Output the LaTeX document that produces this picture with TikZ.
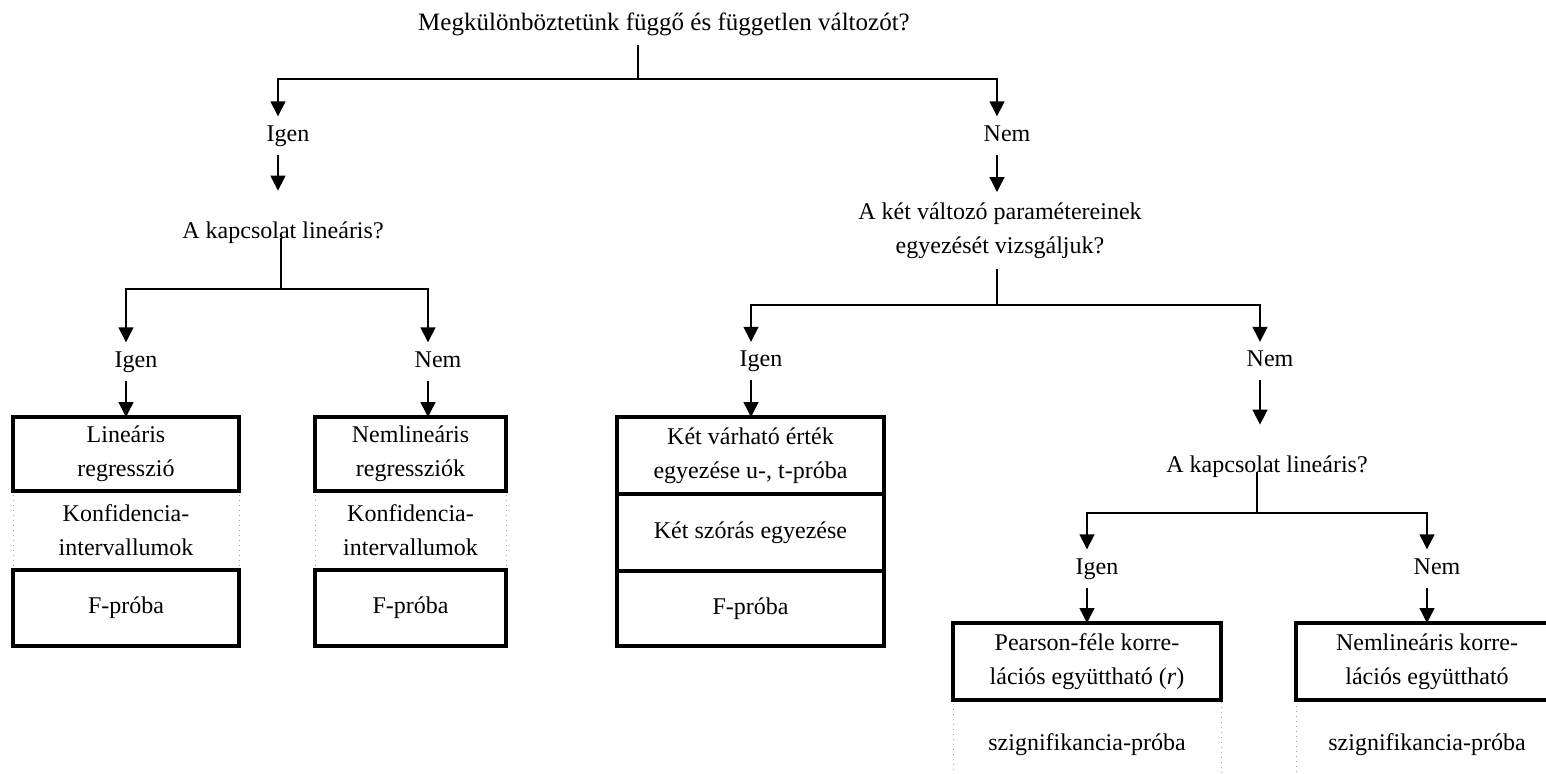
\documentclass[tikz,border=0pt]{standalone}
\usepackage{fontspec}
\setmainfont{Liberation Serif}
\usetikzlibrary{arrows.meta,positioning}

\begin{document}
\begin{tikzpicture}[x=0.5pt,y=-0.5pt,font=\fontsize{12}{17}\selectfont,
	line width=0.7pt,
	arr/.style = {-{Triangle[width=7.5pt,length=7.5pt]}},
	label node/.style = {inner xsep=2pt, inner ysep=4pt, text height=8pt, text depth=2.5pt},
	question node/.style = {inner xsep=2pt, inner ysep=15pt, anchor=base},
	box node/.style = {draw, line width=1.7pt, align=center, inner sep=0pt, outer sep=0pt},
	dot node/.style = {draw=gray!70, dotted, line width=0.5pt, align=center, inner sep=0pt, outer sep=0pt}]
	
	\useasboundingbox (0,0) rectangle (1546,773);
	
	% top question
	\node[anchor=base, inner ysep=4.5pt, font=\fontsize{12.5}{17}\selectfont] (q0) at (664,30) {Megkülönböztetünk függő és független változót?};
	\coordinate (j0) at (638,79);
	\draw (q0.south -| j0) -- (j0);
	\node[label node] (i0) at (288,135.5) {Igen};
	\node[label node] (n0) at (1007,135.5) {Nem};
	\draw[arr] (j0) -| ([xshift=-5pt]i0.north);
	\draw[arr] (j0) -| ([xshift=-5pt]n0.north);
	
	% left branch
	\node[question node] (q1) at (283,238) {A kapcsolat lineáris?};
	\draw[arr] ([xshift=-5pt]i0.south) -- ([xshift=-5pt]i0.south |- q1.north);
	\coordinate (j1) at (281,289);
	\draw (q1.base -| j1) -- (j1);
	\node[label node] (i1) at (136,361.5) {Igen};
	\node[label node] (n1) at (438,361.5) {Nem};
	\draw[arr] (j1) -| ([xshift=-5pt]i1.north);
	\draw[arr] (j1) -| ([xshift=-5pt]n1.north);
	
	\node[dot node, minimum width=113pt, minimum height=39.5pt] (d1) at (126,530.5) {Konfidencia-\\intervallumok};
	\node[box node, minimum width=113pt, minimum height=37pt, above=0pt of d1] (b1) {Lineáris\\regresszió};
	\node[box node, minimum width=113pt, minimum height=38pt, below=0pt of d1] (b2) {F-próba};
	\node[dot node, minimum width=95.5pt, minimum height=39.5pt] (d2) at (410.5,530.5) {Konfidencia-\\intervallumok};
	\node[box node, minimum width=95.5pt, minimum height=37pt, above=0pt of d2] (b3) {Nemlineáris\\regressziók};
	\node[box node, minimum width=95.5pt, minimum height=38pt, below=0pt of d2] (b4) {F-próba};
	\draw[arr] ([xshift=-5pt]i1.south) -- ([xshift=-5pt]i1.south |- b1.north);
	\draw[arr] ([xshift=-5pt]n1.south) -- ([xshift=-5pt]n1.south |- b3.north);
	
	% right branch
	\node[anchor=north, align=center, inner xsep=2pt, inner ysep=5pt] (q2) at (1000,192) {A két változó paramétereinek\\egyezését vizsgáljuk?};
	\draw[arr] ([xshift=-5pt]n0.south) -- ([xshift=-5pt]n0.south |- q2.north);
	\coordinate (j2) at (997,305);
	\draw (q2.south -| j2) -- (j2);
	\node[label node] (i2) at (761,361) {Igen};
	\node[label node] (n2) at (1270,361) {Nem};
	\draw[arr] (j2) -| ([xshift=-5pt]i2.north);
	\draw[arr] (j2) -| ([xshift=-5pt]n2.north);
	
	\node[box node, minimum width=133.5pt, minimum height=38.5pt] (m2) at (750.5,532.5) {Két szórás egyezése};
	\node[box node, minimum width=133.5pt, minimum height=38.5pt, above=0pt of m2] (m1) {Két várható érték\\egyezése u-, t-próba};
	\node[box node, minimum width=133.5pt, minimum height=37.5pt, below=0pt of m2] (m3) {F-próba};
	\draw[arr] ([xshift=-5pt]i2.south) -- ([xshift=-5pt]i2.south |- m1.north);
	
	\node[question node] (q3) at (1267,472) {A kapcsolat lineáris?};
	\draw[arr] ([xshift=-5pt]n2.south) -- ([xshift=-5pt]n2.south |- q3.north);
	\coordinate (j3) at (1257,513);
	\draw (q3.base -| j3) -- (j3);
	\node[label node] (i3) at (1097,568.5) {Igen};
	\node[label node] (n3) at (1437,568.5) {Nem};
	\draw[arr] (j3) -| ([xshift=-5pt]i3.north);
	\draw[arr] (j3) -| ([xshift=-5pt]n3.north);
	
	\node[dot node, minimum width=134pt, minimum height=45pt] (s1) at (1087,745) {szignifikancia-próba};
	\node[box node, minimum width=134pt, minimum height=38.5pt, above=0pt of s1] (p1) {Pearson-féle korre-\\lációs együttható (\textit{r})};
	\node[dot node, minimum width=131pt, minimum height=45pt] (s2) at (1427,745) {szignifikancia-próba};
	\node[box node, minimum width=131pt, minimum height=38.5pt, above=0pt of s2] (p2) {Nemlineáris korre-\\lációs együttható};
	\draw[arr] ([xshift=-5pt]i3.south) -- ([xshift=-5pt]i3.south |- p1.north);
	\draw[arr] ([xshift=-5pt]n3.south) -- ([xshift=-5pt]n3.south |- p2.north);
	
\end{tikzpicture}
\end{document}
